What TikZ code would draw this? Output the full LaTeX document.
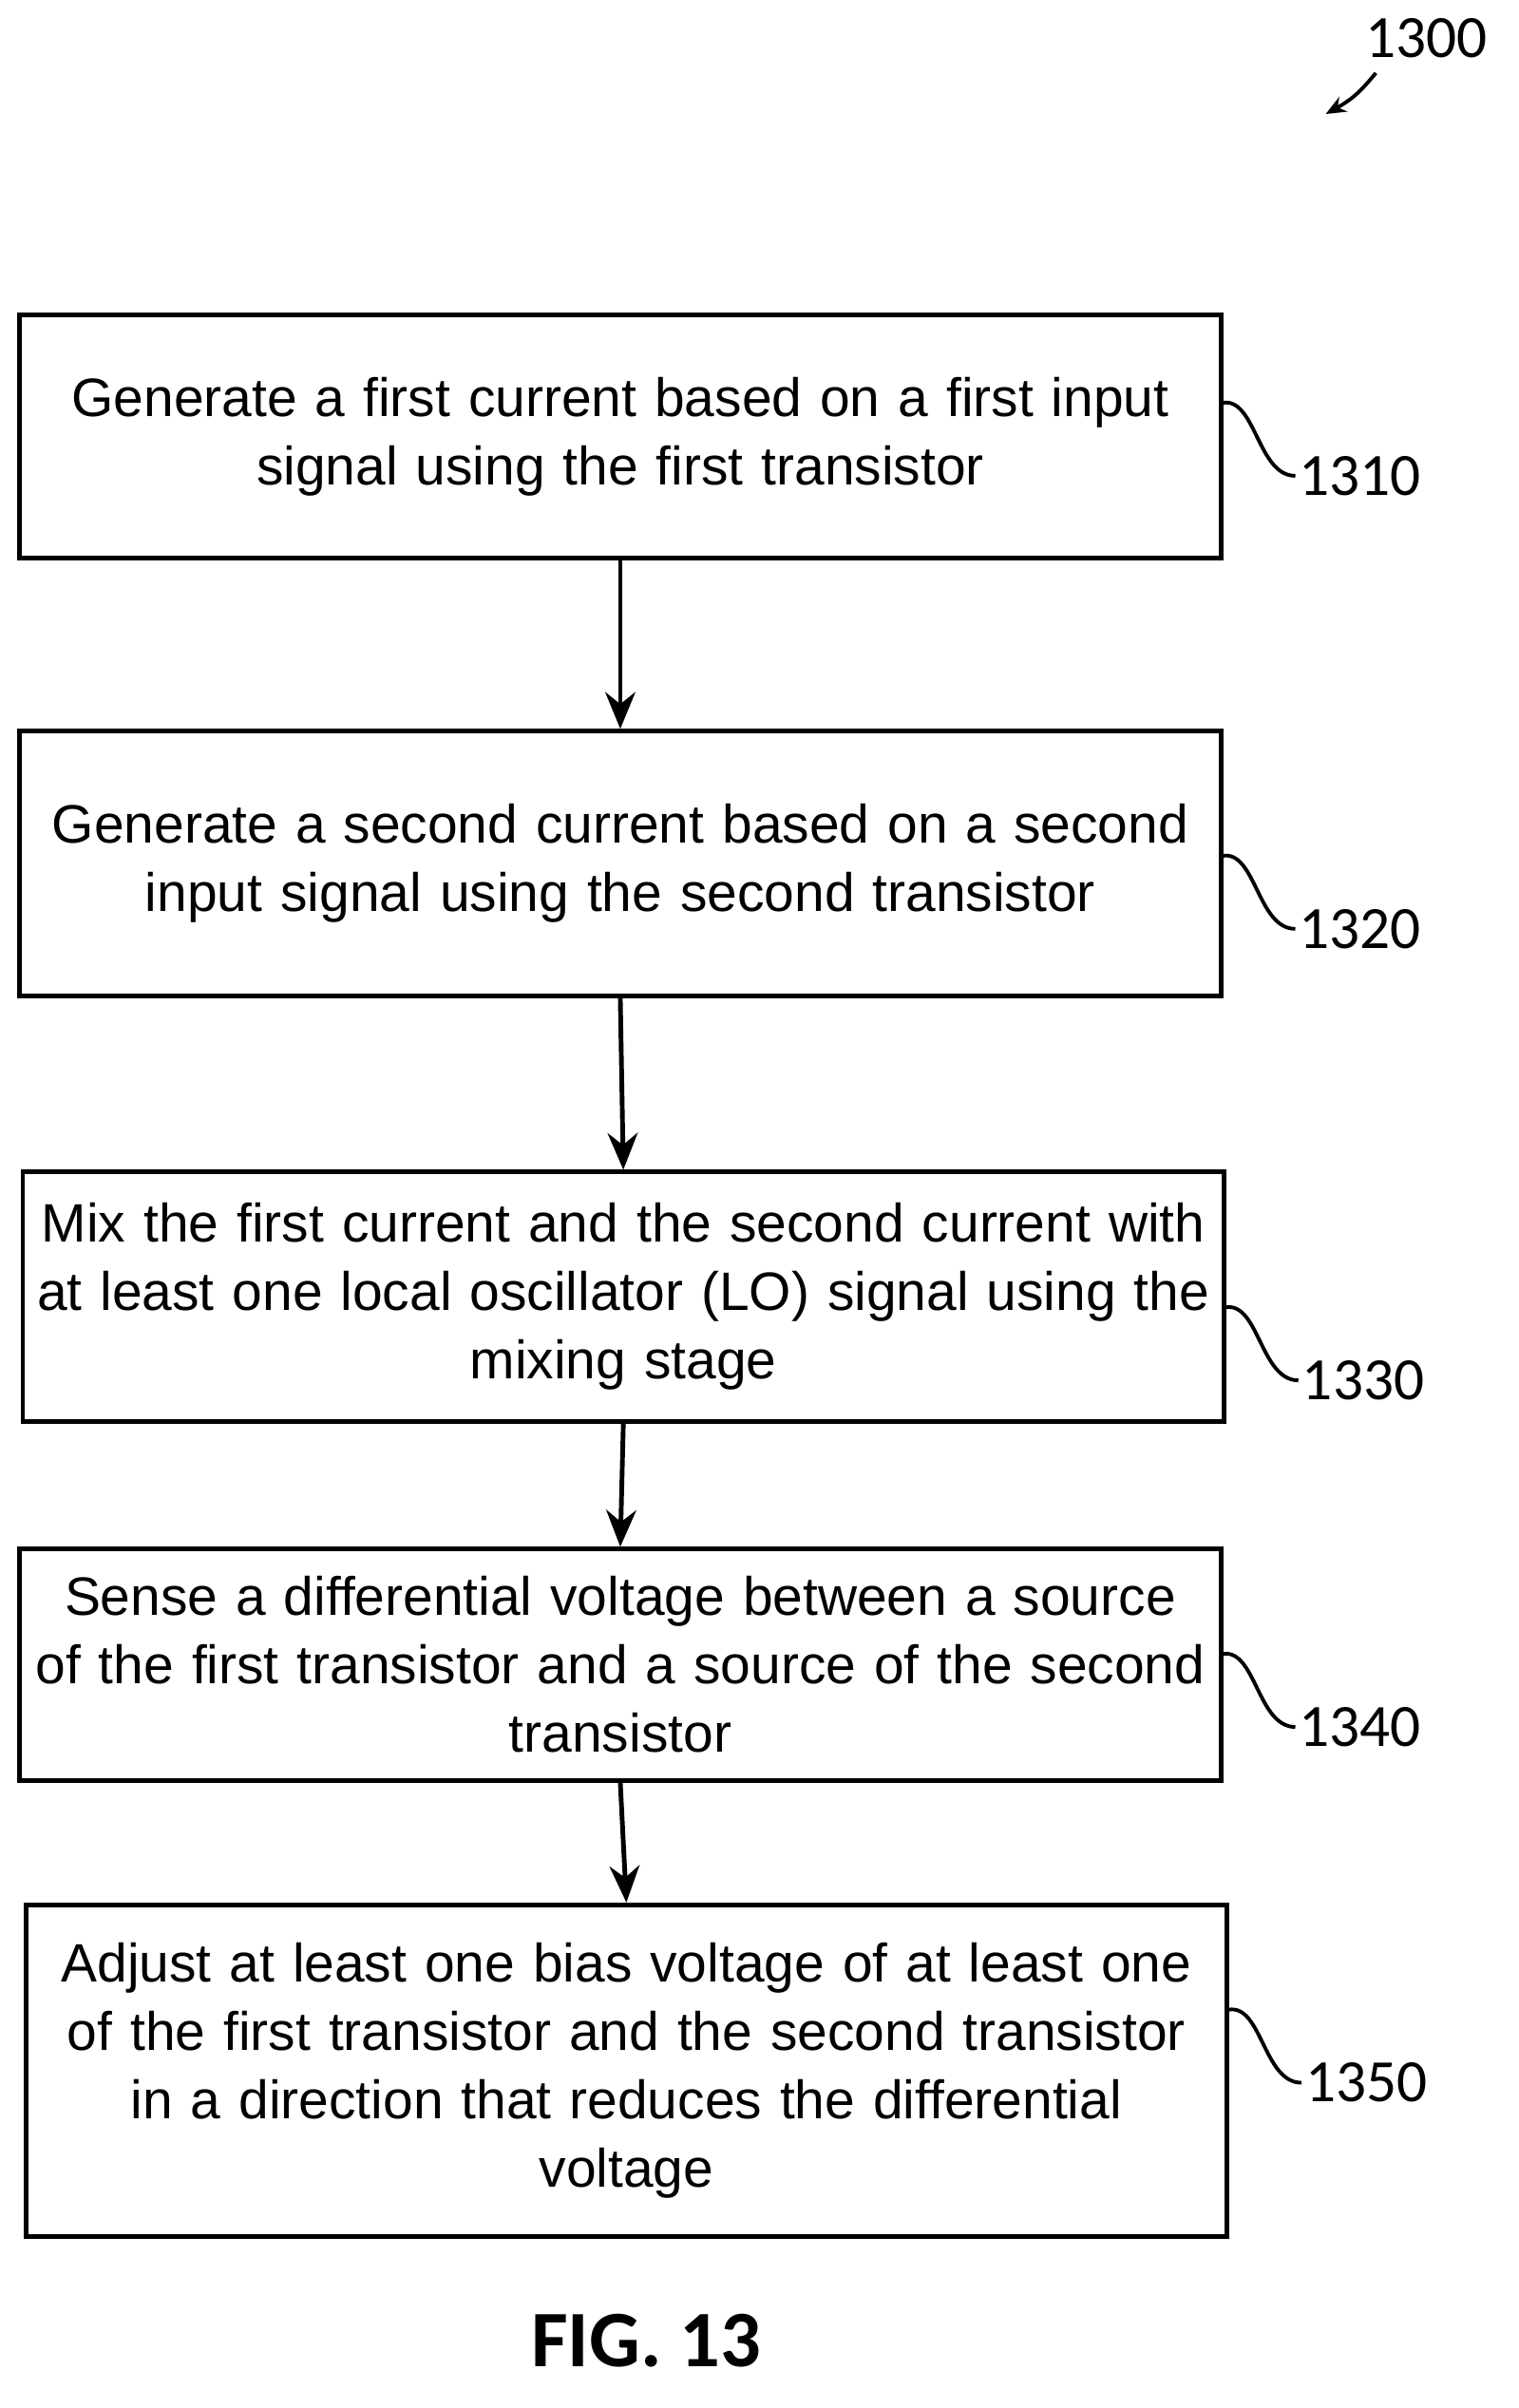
\documentclass[tikz,border=0pt]{standalone}
\usepackage{fontspec}
\setmainfont{Liberation Sans}
\newfontfamily\labelfont{Carlito}
\usetikzlibrary{arrows.meta}
\tikzset{
  stepbox/.style={draw,line width=1.4pt,minimum width=790*0.016cm,text width=780*0.016cm,
    align=center,inner sep=0pt,font=\fontsize{16.2}{20.5}\selectfont},
  flow/.style={line width=1.4pt,-{Stealth[length=11pt,width=9pt]}},
  lead/.style={line width=1.1pt},
  tag/.style={font=\labelfont\fontsize{18}{21}\selectfont,anchor=west,inner sep=1pt}
}
\begin{document}
\begin{tikzpicture}[x=0.016cm,y=-0.016cm]
   \useasboundingbox (0,0) rectangle (999,1584);

   \node[stepbox,minimum height=160*0.016cm] (s1310) at (408,287)
      {Generate a first current based on a first input\\signal using the first transistor};
   \node[stepbox,minimum height=174*0.016cm] (s1320) at (408,568)
      {Generate a second current based on a second\\input signal using the second transistor};
   \node[stepbox,minimum height=164*0.016cm] (s1330) at (410,853)
      {Mix the first current and the second current with\\at least one local oscillator (LO) signal using the\\mixing stage};
   \node[stepbox,minimum height=152*0.016cm] (s1340) at (408,1095)
      {Sense a differential voltage between a source\\of the first transistor and a source of the second\\transistor};
   \node[stepbox,minimum height=218*0.016cm] (s1350) at (412,1362)
      {Adjust at least one bias voltage of at least one\\of the first transistor and the second transistor\\in a direction that reduces the differential\\voltage};

   \draw[flow] (s1310.south) -- (s1320.north);
   \draw[flow] (s1320.south) -- (s1330.north);
   \draw[flow] (s1330.south) -- (s1340.north);
   \draw[flow] (s1340.south) -- (s1350.north);

   % reference numerals
   \foreach \n/\x/\y in {1310/804/265,1320/804/563,1330/806/860,1340/804/1088,1350/808/1322}{
      \coordinate (c\n) at (\x,\y);
      \draw[lead] (c\n) .. controls +(22,-4) and +(-25,0) .. ++(48,48) coordinate (e\n);
      \node[tag] (t\n) at (e\n) {\n};
   }

   \node[font=\labelfont\fontsize{18}{21}\selectfont] (t1300) at (938,25) {1300};
   \coordinate (p1300) at (872,75);
   \draw[lead,-{Stealth[length=6pt,width=5pt]}] (905,48) .. controls (895,60) and (890,65) .. (p1300);

   \node[font=\labelfont\bfseries\fontsize{24}{28}\selectfont] (fig) at (425,1540) {FIG. 13};
\end{tikzpicture}
\end{document}
